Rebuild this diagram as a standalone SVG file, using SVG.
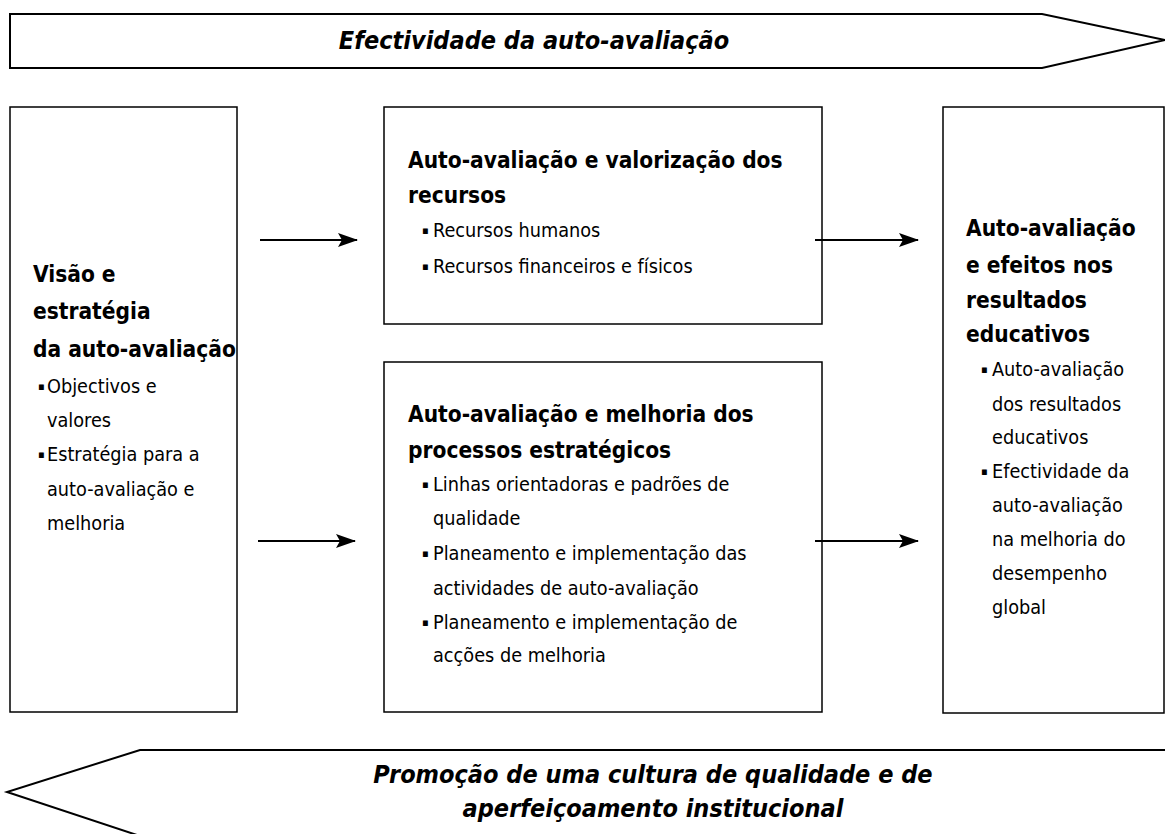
<svg xmlns="http://www.w3.org/2000/svg" width="1165" height="834" viewBox="0 0 1165 834">
<defs>
<marker id="ah" viewBox="0 0 20 14" refX="19" refY="7" markerWidth="20" markerHeight="14" markerUnits="userSpaceOnUse" orient="auto">
<path d="M0,0 L20,7 L0,14 L4,7 Z" fill="#000"/>
</marker>
<style>
.box{fill:#fff;stroke:#000;stroke-width:1.5}
.ban{fill:#fff;stroke:#000;stroke-width:2}
.t{font-family:"DejaVu Sans Condensed","DejaVu Sans",sans-serif;font-size:22.5px;font-weight:bold;fill:#000}
.b{font-family:"DejaVu Sans Condensed","DejaVu Sans",sans-serif;font-size:19.7px;fill:#000}
.d{font-size:11px}
.bn{font-family:"DejaVu Sans Condensed","DejaVu Sans",sans-serif;font-size:25px;font-weight:bold;font-style:italic;fill:#000}
.c{stroke:#000;stroke-width:2;fill:none;marker-end:url(#ah)}
</style>
</defs>
<rect width="1165" height="834" fill="#fff"/>
<g id="banner-top">
<polygon class="ban" points="10,14 1042,14 1165,40 1042,68 10,68"/>
<text class="bn" x="534" y="49" text-anchor="middle">Efectividade da auto-avaliação</text>
</g>
<g id="banner-bottom">
<polygon class="ban" points="1170,750 140,750 7,792 140,836 1170,836"/>
<text class="bn" x="653" y="783" text-anchor="middle">Promoção de uma cultura de qualidade e de</text>
<text class="bn" x="653" y="817" text-anchor="middle">aperfeiçoamento institucional</text>
</g>
<g id="node-visao">
<rect class="box" x="10" y="107" width="227" height="605"/>
<text class="t" x="33" y="282">Visão e</text>
<text class="t" x="33" y="319">estratégia</text>
<text class="t" x="33" y="357">da auto-avaliação</text>
<text class="b"><tspan class="d" x="38" y="390">▪</tspan><tspan x="47" y="393">Objectivos e</tspan><tspan x="47" y="427">valores</tspan><tspan class="d" x="38" y="458">▪</tspan><tspan x="47" y="461">Estratégia para a</tspan><tspan x="47" y="496">auto-avaliação e</tspan><tspan x="47" y="530">melhoria</tspan></text>
</g>
<g id="node-recursos">
<rect class="box" x="384" y="107" width="438" height="217"/>
<text class="t" x="408" y="168">Auto-avaliação e valorização dos</text>
<text class="t" x="408" y="203">recursos</text>
<text class="b"><tspan class="d" x="422" y="234">▪</tspan><tspan x="433" y="237">Recursos humanos</tspan><tspan class="d" x="422" y="270">▪</tspan><tspan x="433" y="273">Recursos financeiros e físicos</tspan></text>
</g>
<g id="node-processos">
<rect class="box" x="384" y="362" width="438" height="350"/>
<text class="t" x="408" y="422">Auto-avaliação e melhoria dos</text>
<text class="t" x="408" y="458">processos estratégicos</text>
<text class="b"><tspan class="d" x="422" y="488">▪</tspan><tspan x="433" y="491">Linhas orientadoras e padrões de</tspan><tspan x="433" y="525">qualidade</tspan><tspan class="d" x="422" y="557">▪</tspan><tspan x="433" y="560">Planeamento e implementação das</tspan><tspan x="433" y="595">actividades de auto-avaliação</tspan><tspan class="d" x="422" y="626">▪</tspan><tspan x="433" y="629">Planeamento e implementação de</tspan><tspan x="433" y="662">acções de melhoria</tspan></text>
</g>
<g id="node-resultados">
<rect class="box" x="943" y="107" width="221" height="606"/>
<text class="t" x="966" y="236">Auto-avaliação</text>
<text class="t" x="966" y="273">e efeitos nos</text>
<text class="t" x="966" y="308">resultados</text>
<text class="t" x="966" y="342">educativos</text>
<text class="b"><tspan class="d" x="981" y="373">▪</tspan><tspan x="992" y="376">Auto-avaliação</tspan><tspan x="992" y="411">dos resultados</tspan><tspan x="992" y="444">educativos</tspan><tspan class="d" x="981" y="475">▪</tspan><tspan x="992" y="478">Efectividade da</tspan><tspan x="992" y="512">auto-avaliação</tspan><tspan x="992" y="546">na melhoria do</tspan><tspan x="992" y="580">desempenho</tspan><tspan x="992" y="614">global</tspan></text>
</g>
<g id="connectors">
<line class="c" x1="260" y1="240" x2="357" y2="240"/>
<line class="c" x1="258" y1="541" x2="355" y2="541"/>
<line class="c" x1="815" y1="240" x2="918" y2="240"/>
<line class="c" x1="815" y1="541" x2="918" y2="541"/>
</g>
</svg>
